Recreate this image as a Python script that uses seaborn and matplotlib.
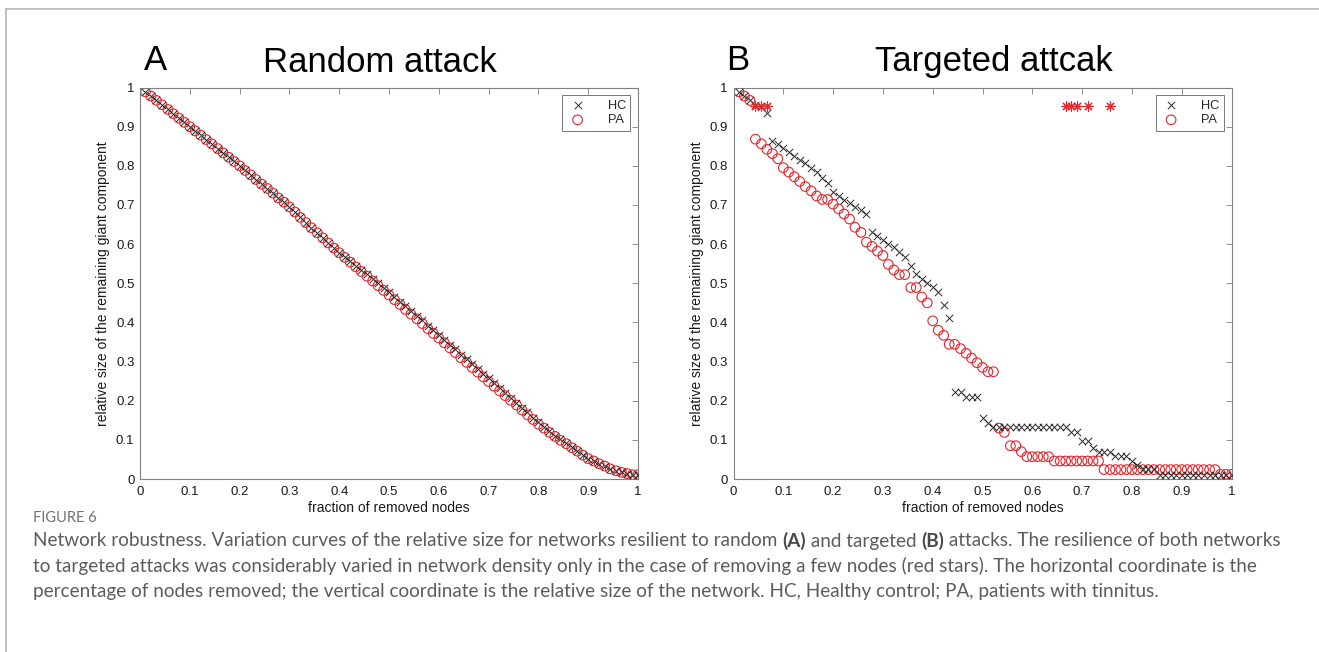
import numpy as np
import matplotlib
matplotlib.use("Agg")
import matplotlib.pyplot as plt
from matplotlib.lines import Line2D
from matplotlib.text import Annotation
import seaborn as sns

# ---------------- data ----------------
removed_fraction = [
    0.011, 0.022, 0.033, 0.044, 0.056, 0.067, 0.078, 0.089, 0.100, 0.111,
    0.122, 0.133, 0.144, 0.156, 0.167, 0.178, 0.189, 0.200, 0.211, 0.222,
    0.233, 0.244, 0.256, 0.267, 0.278, 0.289, 0.300, 0.311, 0.322, 0.333,
    0.344, 0.356, 0.367, 0.378, 0.389, 0.400, 0.411, 0.422, 0.433, 0.444,
    0.456, 0.467, 0.478, 0.489, 0.500, 0.511, 0.522, 0.533, 0.544, 0.556,
    0.567, 0.578, 0.589, 0.600, 0.611, 0.622, 0.633, 0.644, 0.656, 0.667,
    0.678, 0.689, 0.700, 0.711, 0.722, 0.733, 0.744, 0.756, 0.767, 0.778,
    0.789, 0.800, 0.811, 0.822, 0.833, 0.844, 0.856, 0.867, 0.878, 0.889,
    0.900, 0.911, 0.922, 0.933, 0.944, 0.956, 0.967, 0.978, 0.989, 1.000,
]

random_hc = [
    0.989, 0.978, 0.967, 0.956, 0.944, 0.933, 0.922, 0.911, 0.900, 0.889,
    0.878, 0.867, 0.856, 0.844, 0.833, 0.822, 0.811, 0.800, 0.788, 0.777,
    0.765, 0.753, 0.742, 0.730, 0.718, 0.707, 0.695, 0.682, 0.668, 0.655,
    0.642, 0.629, 0.616, 0.603, 0.590, 0.578, 0.566, 0.556, 0.545, 0.534,
    0.523, 0.512, 0.500, 0.489, 0.477, 0.465, 0.453, 0.441, 0.429, 0.417,
    0.405, 0.392, 0.380, 0.368, 0.356, 0.343, 0.331, 0.318, 0.306, 0.293,
    0.281, 0.269, 0.257, 0.245, 0.232, 0.220, 0.207, 0.195, 0.182, 0.170,
    0.157, 0.145, 0.134, 0.122, 0.111, 0.101, 0.091, 0.081, 0.071, 0.062,
    0.052, 0.046, 0.039, 0.033, 0.026, 0.021, 0.017, 0.014, 0.011, 0.011,
]
random_pa = [
    0.989, 0.978, 0.967, 0.956, 0.944, 0.933, 0.922, 0.911, 0.900, 0.889,
    0.878, 0.867, 0.856, 0.844, 0.833, 0.822, 0.811, 0.800, 0.788, 0.777,
    0.765, 0.753, 0.742, 0.730, 0.718, 0.707, 0.695, 0.682, 0.668, 0.655,
    0.642, 0.629, 0.616, 0.603, 0.590, 0.578, 0.566, 0.554, 0.542, 0.530,
    0.518, 0.506, 0.494, 0.482, 0.470, 0.458, 0.446, 0.433, 0.421, 0.409,
    0.397, 0.384, 0.372, 0.360, 0.348, 0.335, 0.323, 0.310, 0.298, 0.285,
    0.273, 0.261, 0.249, 0.237, 0.225, 0.213, 0.201, 0.189, 0.176, 0.164,
    0.152, 0.140, 0.130, 0.119, 0.109, 0.099, 0.090, 0.080, 0.071, 0.061,
    0.052, 0.046, 0.039, 0.033, 0.026, 0.021, 0.017, 0.014, 0.011, 0.011,
]

targeted_hc = [
    0.989, 0.978, 0.967, 0.956, 0.950, 0.934, 0.863, 0.855, 0.846, 0.836,
    0.825, 0.814, 0.806, 0.794, 0.783, 0.768, 0.757, 0.734, 0.723, 0.713,
    0.704, 0.694, 0.687, 0.677, 0.630, 0.620, 0.611, 0.600, 0.592, 0.579,
    0.566, 0.543, 0.524, 0.511, 0.500, 0.490, 0.477, 0.444, 0.410, 0.223,
    0.223, 0.210, 0.210, 0.210, 0.155, 0.144, 0.134, 0.134, 0.134, 0.134,
    0.134, 0.134, 0.134, 0.134, 0.134, 0.134, 0.134, 0.134, 0.134, 0.134,
    0.121, 0.121, 0.098, 0.098, 0.079, 0.070, 0.070, 0.070, 0.058, 0.058,
    0.058, 0.047, 0.036, 0.025, 0.025, 0.025, 0.011, 0.011, 0.011, 0.011,
    0.011, 0.011, 0.011, 0.011, 0.011, 0.011, 0.011, 0.011, 0.011, 0.011,
]
targeted_pa = [
    0.989, 0.978, 0.967, 0.868, 0.856, 0.842, 0.831, 0.818, 0.795, 0.784,
    0.772, 0.760, 0.747, 0.736, 0.723, 0.714, 0.714, 0.702, 0.690, 0.677,
    0.664, 0.643, 0.630, 0.605, 0.594, 0.582, 0.571, 0.548, 0.534, 0.522,
    0.522, 0.489, 0.489, 0.465, 0.450, 0.404, 0.380, 0.367, 0.344, 0.344,
    0.333, 0.321, 0.309, 0.297, 0.285, 0.274, 0.274, 0.130, 0.119, 0.085,
    0.085, 0.070, 0.057, 0.057, 0.057, 0.057, 0.057, 0.046, 0.046, 0.046,
    0.046, 0.046, 0.046, 0.046, 0.046, 0.046, 0.024, 0.024, 0.024, 0.024,
    0.024, 0.024, 0.024, 0.024, 0.024, 0.024, 0.024, 0.024, 0.024, 0.024,
    0.024, 0.024, 0.024, 0.024, 0.024, 0.024, 0.024, 0.012, 0.012, 0.012,
]

star_x = [0.044, 0.056, 0.067, 0.667, 0.678, 0.689, 0.711, 0.756]
star_y = [0.952, 0.952, 0.952, 0.952, 0.952, 0.952, 0.952, 0.952]

tick_values = [0, 0.1, 0.2, 0.3, 0.4, 0.5, 0.6, 0.7, 0.8, 0.9, 1]
tick_labels = ["0", "0.1", "0.2", "0.3", "0.4", "0.5", "0.6", "0.7", "0.8", "0.9", "1"]
series_names = ["HC", "PA"]

# ---------------- style ----------------
sns.set_theme(style="white")
plt.rcParams["font.family"] = ["Liberation Sans", "DejaVu Sans"]

W, H = 1319, 652
fig = plt.figure(figsize=(W / 100, H / 100), dpi=100)
fig.patch.set_facecolor("white")

HC_COLOR = "#2a2a2a"
PA_COLOR = "#e3262b"
SPINE = "#808080"


def px_rect(l, t, r, b):
    return [l / W, 1 - b / H, (r - l) / W, (b - t) / H]


def draw_panel(ax, hc, pa, stars=False):
    sns.scatterplot(x=removed_fraction, y=hc, marker="x", color=HC_COLOR,
                    s=28, linewidth=0.7, label=series_names[0], ax=ax, zorder=3)
    sns.scatterplot(x=removed_fraction, y=pa, marker="o", color=PA_COLOR,
                    facecolor="none", edgecolor=PA_COLOR, s=48, linewidth=0.8,
                    label=series_names[1], ax=ax, zorder=2)
    if stars:
        sns.scatterplot(x=star_x, y=star_y, marker=(8, 2, 0), color=PA_COLOR,
                        s=45, linewidth=0.8, ax=ax, zorder=4)
    ax.set_xlim(0, 1)
    ax.set_ylim(0, 1)
    ax.set_xticks(tick_values)
    ax.set_xticklabels(tick_labels)
    ax.set_yticks(tick_values)
    ax.set_yticklabels(tick_labels)
    ax.tick_params(direction="in", top=True, right=True, length=4, width=0.6,
                   color=SPINE, labelsize=9.5, labelcolor="#1a1a1a")
    ax.tick_params(axis="x", pad=5)
    ax.tick_params(axis="y", pad=4)
    for sp in ax.spines.values():
        sp.set_visible(True)
        sp.set_color(SPINE)
        sp.set_linewidth(0.8)
    ax.set_xlabel("fraction of removed nodes", fontsize=10, color="#1a1a1a", labelpad=2)
    ax.set_ylabel("relative size of the remaining giant component", fontsize=10,
                  color="#1a1a1a", labelpad=4)
    leg = ax.legend(loc="upper right", fontsize=9.2, frameon=True, fancybox=False,
                    edgecolor="#555555", borderaxespad=0.6, handletextpad=1.5,
                    borderpad=0.35, handlelength=1.7, labelspacing=0.2)
    leg.get_frame().set_linewidth(0.7)
    ax.set_facecolor("white")


axA = fig.add_axes(px_rect(140, 87.5, 638, 479))
axB = fig.add_axes(px_rect(733.5, 87.5, 1231.5, 479))
draw_panel(axA, random_hc, random_pa)
draw_panel(axB, targeted_hc, targeted_pa, stars=True)

# panel titles
fig.text(144 / W, 1 - 60 / H, "A", fontsize=25, va="center", ha="left", color="black")
fig.text(380 / W, 1 - 62 / H, "Random attack", fontsize=25, va="center", ha="center", color="black")
fig.text(726 / W, 1 - 60 / H, "B", fontsize=25, va="center", ha="left", color="black")
fig.text(994 / W, 1 - 62 / H, "Targeted attcak", fontsize=25, va="center", ha="center", color="black")

# frame lines
fig.add_artist(Line2D([6 / W, 1], [1 - 9 / H, 1 - 9 / H], transform=fig.transFigure,
                      color="#b5b5b5", lw=1.2))
fig.add_artist(Line2D([6 / W, 6 / W], [0, 1 - 9 / H], transform=fig.transFigure,
                      color="#b5b5b5", lw=1.2))

# caption
CAP_FONT = ["Lato", "DejaVu Sans"]
CAP_COLOR = "#5c5c5c"
fig.text(33 / W, 1 - 518 / H, "FIGURE 6", fontsize=10.5, color="#707070",
         family=CAP_FONT, va="center", ha="left")

cap_lines = [
    [("Network robustness. Variation curves of the relative size for networks resilient to random ", "normal"),
     ("(A)", "bold"), (" and targeted ", "normal"), ("(B)", "bold"),
     (" attacks. The resilience of both networks", "normal")],
    [("to targeted attacks was considerably varied in network density only in the case of removing a few nodes (red stars). The horizontal coordinate is the", "normal")],
    [("percentage of nodes removed; the vertical coordinate is the relative size of the network. HC, Healthy control; PA, patients with tinnitus.", "normal")],
]
cap_y = [541, 566, 591]
for parts, yy in zip(cap_lines, cap_y):
    s, w = parts[0]
    prev = fig.text(33 / W, 1 - yy / H, s, fontsize=13.6, color=CAP_COLOR, family=CAP_FONT,
                    fontweight=w, va="center", ha="left")
    for s, w in parts[1:]:
        ann = Annotation(s, xy=(1, 0), xycoords=prev, va="bottom", ha="left",
                         fontsize=13.6, color=CAP_COLOR if w != "bold" else "#474747",
                         family=CAP_FONT, fontweight=w)
        fig.add_artist(ann)
        prev = ann

fig.savefig("out.png", dpi=100, facecolor="white")
